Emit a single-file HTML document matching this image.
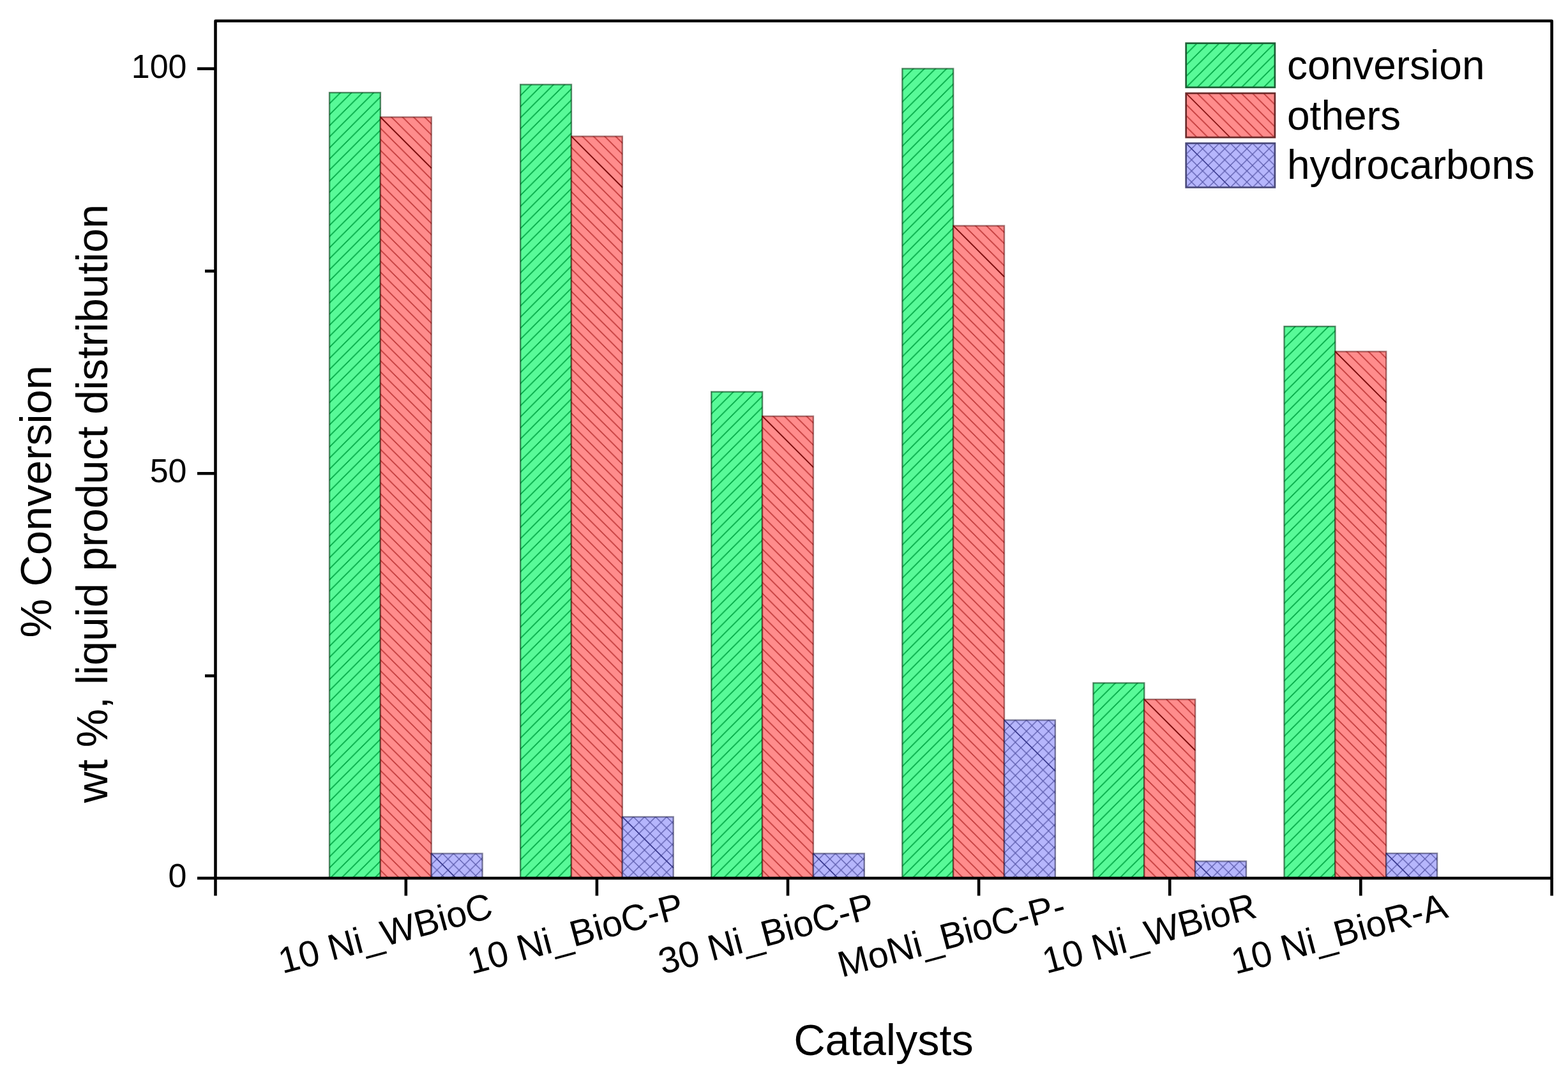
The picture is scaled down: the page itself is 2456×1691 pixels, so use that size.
<!DOCTYPE html>
<html><head><meta charset="utf-8"><title>Catalysts chart</title>
<style>html,body{margin:0;padding:0;background:#fff;overflow:hidden;}svg{display:block}</style></head>
<body><svg width="2456" height="1691" viewBox="0 0 2456 1691">
<rect width="2456" height="1691" fill="#fff"/>
<defs><pattern id="p1" patternUnits="userSpaceOnUse" x="516.02" y="145.00" width="17.34" height="17.34"><path d="M-4,4 L4,-4 M0,17.34 L17.34,0 M13.34,21.34 L21.34,13.34" stroke="#00A543" stroke-width="1.7" fill="none"/></pattern><pattern id="p2" patternUnits="userSpaceOnUse" x="595.88" y="183.40" width="17.34" height="17.34"><path d="M-4,-4 L21.34,21.34 M13.34,-4 L21.34,4 M-4,13.34 L4,21.34" stroke="#BE3636" stroke-width="1.6" fill="none"/></pattern><pattern id="p3" patternUnits="userSpaceOnUse" x="675.72" y="1336.40" width="17.34" height="17.34"><path d="M-4,4 L4,-4 M0,17.34 L17.34,0 M13.34,21.34 L21.34,13.34" stroke="#5A5AAA" stroke-width="1.3" fill="none"/><path d="M-4,-4 L21.34,21.34 M13.34,-4 L21.34,4 M-4,13.34 L4,21.34" stroke="#5A5AAA" stroke-width="1.3" fill="none"/></pattern><pattern id="p4" patternUnits="userSpaceOnUse" x="815.12" y="132.40" width="17.34" height="17.34"><path d="M-4,4 L4,-4 M0,17.34 L17.34,0 M13.34,21.34 L21.34,13.34" stroke="#00A543" stroke-width="1.7" fill="none"/></pattern><pattern id="p5" patternUnits="userSpaceOnUse" x="894.98" y="213.50" width="17.34" height="17.34"><path d="M-4,-4 L21.34,21.34 M13.34,-4 L21.34,4 M-4,13.34 L4,21.34" stroke="#BE3636" stroke-width="1.6" fill="none"/></pattern><pattern id="p6" patternUnits="userSpaceOnUse" x="974.83" y="1279.00" width="17.34" height="17.34"><path d="M-4,4 L4,-4 M0,17.34 L17.34,0 M13.34,21.34 L21.34,13.34" stroke="#5A5AAA" stroke-width="1.3" fill="none"/><path d="M-4,-4 L21.34,21.34 M13.34,-4 L21.34,4 M-4,13.34 L4,21.34" stroke="#5A5AAA" stroke-width="1.3" fill="none"/></pattern><pattern id="p7" patternUnits="userSpaceOnUse" x="1114.22" y="613.50" width="17.34" height="17.34"><path d="M-4,4 L4,-4 M0,17.34 L17.34,0 M13.34,21.34 L21.34,13.34" stroke="#00A543" stroke-width="1.7" fill="none"/></pattern><pattern id="p8" patternUnits="userSpaceOnUse" x="1194.07" y="651.70" width="17.34" height="17.34"><path d="M-4,-4 L21.34,21.34 M13.34,-4 L21.34,4 M-4,13.34 L4,21.34" stroke="#BE3636" stroke-width="1.6" fill="none"/></pattern><pattern id="p9" patternUnits="userSpaceOnUse" x="1273.92" y="1336.40" width="17.34" height="17.34"><path d="M-4,4 L4,-4 M0,17.34 L17.34,0 M13.34,21.34 L21.34,13.34" stroke="#5A5AAA" stroke-width="1.3" fill="none"/><path d="M-4,-4 L21.34,21.34 M13.34,-4 L21.34,4 M-4,13.34 L4,21.34" stroke="#5A5AAA" stroke-width="1.3" fill="none"/></pattern><pattern id="p10" patternUnits="userSpaceOnUse" x="1413.32" y="107.50" width="17.34" height="17.34"><path d="M-4,4 L4,-4 M0,17.34 L17.34,0 M13.34,21.34 L21.34,13.34" stroke="#00A543" stroke-width="1.7" fill="none"/></pattern><pattern id="p11" patternUnits="userSpaceOnUse" x="1493.17" y="353.50" width="17.34" height="17.34"><path d="M-4,-4 L21.34,21.34 M13.34,-4 L21.34,4 M-4,13.34 L4,21.34" stroke="#BE3636" stroke-width="1.6" fill="none"/></pattern><pattern id="p12" patternUnits="userSpaceOnUse" x="1573.02" y="1127.50" width="17.34" height="17.34"><path d="M-4,4 L4,-4 M0,17.34 L17.34,0 M13.34,21.34 L21.34,13.34" stroke="#5A5AAA" stroke-width="1.3" fill="none"/><path d="M-4,-4 L21.34,21.34 M13.34,-4 L21.34,4 M-4,13.34 L4,21.34" stroke="#5A5AAA" stroke-width="1.3" fill="none"/></pattern><pattern id="p13" patternUnits="userSpaceOnUse" x="1712.42" y="1069.40" width="17.34" height="17.34"><path d="M-4,4 L4,-4 M0,17.34 L17.34,0 M13.34,21.34 L21.34,13.34" stroke="#00A543" stroke-width="1.7" fill="none"/></pattern><pattern id="p14" patternUnits="userSpaceOnUse" x="1792.27" y="1095.00" width="17.34" height="17.34"><path d="M-4,-4 L21.34,21.34 M13.34,-4 L21.34,4 M-4,13.34 L4,21.34" stroke="#BE3636" stroke-width="1.6" fill="none"/></pattern><pattern id="p15" patternUnits="userSpaceOnUse" x="1872.12" y="1348.50" width="17.34" height="17.34"><path d="M-4,4 L4,-4 M0,17.34 L17.34,0 M13.34,21.34 L21.34,13.34" stroke="#5A5AAA" stroke-width="1.3" fill="none"/><path d="M-4,-4 L21.34,21.34 M13.34,-4 L21.34,4 M-4,13.34 L4,21.34" stroke="#5A5AAA" stroke-width="1.3" fill="none"/></pattern><pattern id="p16" patternUnits="userSpaceOnUse" x="2011.53" y="511.10" width="17.34" height="17.34"><path d="M-4,4 L4,-4 M0,17.34 L17.34,0 M13.34,21.34 L21.34,13.34" stroke="#00A543" stroke-width="1.7" fill="none"/></pattern><pattern id="p17" patternUnits="userSpaceOnUse" x="2091.38" y="550.40" width="17.34" height="17.34"><path d="M-4,-4 L21.34,21.34 M13.34,-4 L21.34,4 M-4,13.34 L4,21.34" stroke="#BE3636" stroke-width="1.6" fill="none"/></pattern><pattern id="p18" patternUnits="userSpaceOnUse" x="2171.22" y="1336.10" width="17.34" height="17.34"><path d="M-4,4 L4,-4 M0,17.34 L17.34,0 M13.34,21.34 L21.34,13.34" stroke="#5A5AAA" stroke-width="1.3" fill="none"/><path d="M-4,-4 L21.34,21.34 M13.34,-4 L21.34,4 M-4,13.34 L4,21.34" stroke="#5A5AAA" stroke-width="1.3" fill="none"/></pattern><pattern id="p19" patternUnits="userSpaceOnUse" x="1857.70" y="67.70" width="17.34" height="17.34"><path d="M-4,4 L4,-4 M0,17.34 L17.34,0 M13.34,21.34 L21.34,13.34" stroke="#00A543" stroke-width="1.7" fill="none"/></pattern><pattern id="p20" patternUnits="userSpaceOnUse" x="1857.70" y="146.00" width="17.34" height="17.34"><path d="M-4,-4 L21.34,21.34 M13.34,-4 L21.34,4 M-4,13.34 L4,21.34" stroke="#BE3636" stroke-width="1.6" fill="none"/></pattern><pattern id="p21" patternUnits="userSpaceOnUse" x="1857.70" y="224.30" width="17.34" height="17.34"><path d="M-4,4 L4,-4 M0,17.34 L17.34,0 M13.34,21.34 L21.34,13.34" stroke="#5A5AAA" stroke-width="1.3" fill="none"/><path d="M-4,-4 L21.34,21.34 M13.34,-4 L21.34,4 M-4,13.34 L4,21.34" stroke="#5A5AAA" stroke-width="1.3" fill="none"/></pattern></defs>
<rect x="516.02" y="145.00" width="79.85" height="1230.00" fill="#58FA98"/><rect x="516.02" y="145.00" width="79.85" height="1230.00" fill="url(#p1)"/><rect x="516.02" y="145.00" width="79.85" height="1230.00" fill="none" stroke="rgba(0,60,20,0.6)" stroke-width="2.4"/>
<rect x="595.88" y="183.40" width="79.85" height="1191.60" fill="#FF8C8C"/><rect x="595.88" y="183.40" width="79.85" height="1191.60" fill="url(#p2)"/><line x1="595.88" y1="183.40" x2="675.73" y2="263.25" stroke="#780C0C" stroke-width="1.7"/><rect x="595.88" y="183.40" width="79.85" height="1191.60" fill="none" stroke="rgba(80,0,0,0.5)" stroke-width="2.4"/>
<rect x="675.72" y="1336.40" width="79.85" height="38.60" fill="#B6B6FC"/><rect x="675.72" y="1336.40" width="79.85" height="38.60" fill="url(#p3)"/><line x1="675.72" y1="1336.40" x2="714.32" y2="1375.00" stroke="#34348A" stroke-width="1.4"/><rect x="675.72" y="1336.40" width="79.85" height="38.60" fill="none" stroke="rgba(20,20,60,0.5)" stroke-width="2.4"/>
<rect x="815.12" y="132.40" width="79.85" height="1242.60" fill="#58FA98"/><rect x="815.12" y="132.40" width="79.85" height="1242.60" fill="url(#p4)"/><rect x="815.12" y="132.40" width="79.85" height="1242.60" fill="none" stroke="rgba(0,60,20,0.6)" stroke-width="2.4"/>
<rect x="894.98" y="213.50" width="79.85" height="1161.50" fill="#FF8C8C"/><rect x="894.98" y="213.50" width="79.85" height="1161.50" fill="url(#p5)"/><line x1="894.98" y1="213.50" x2="974.83" y2="293.35" stroke="#780C0C" stroke-width="1.7"/><rect x="894.98" y="213.50" width="79.85" height="1161.50" fill="none" stroke="rgba(80,0,0,0.5)" stroke-width="2.4"/>
<rect x="974.83" y="1279.00" width="79.85" height="96.00" fill="#B6B6FC"/><rect x="974.83" y="1279.00" width="79.85" height="96.00" fill="url(#p6)"/><line x1="974.83" y1="1279.00" x2="1054.67" y2="1358.85" stroke="#34348A" stroke-width="1.4"/><rect x="974.83" y="1279.00" width="79.85" height="96.00" fill="none" stroke="rgba(20,20,60,0.5)" stroke-width="2.4"/>
<rect x="1114.22" y="613.50" width="79.85" height="761.50" fill="#58FA98"/><rect x="1114.22" y="613.50" width="79.85" height="761.50" fill="url(#p7)"/><rect x="1114.22" y="613.50" width="79.85" height="761.50" fill="none" stroke="rgba(0,60,20,0.6)" stroke-width="2.4"/>
<rect x="1194.07" y="651.70" width="79.85" height="723.30" fill="#FF8C8C"/><rect x="1194.07" y="651.70" width="79.85" height="723.30" fill="url(#p8)"/><line x1="1194.07" y1="651.70" x2="1273.92" y2="731.55" stroke="#780C0C" stroke-width="1.7"/><rect x="1194.07" y="651.70" width="79.85" height="723.30" fill="none" stroke="rgba(80,0,0,0.5)" stroke-width="2.4"/>
<rect x="1273.92" y="1336.40" width="79.85" height="38.60" fill="#B6B6FC"/><rect x="1273.92" y="1336.40" width="79.85" height="38.60" fill="url(#p9)"/><line x1="1273.92" y1="1336.40" x2="1312.52" y2="1375.00" stroke="#34348A" stroke-width="1.4"/><rect x="1273.92" y="1336.40" width="79.85" height="38.60" fill="none" stroke="rgba(20,20,60,0.5)" stroke-width="2.4"/>
<rect x="1413.32" y="107.50" width="79.85" height="1267.50" fill="#58FA98"/><rect x="1413.32" y="107.50" width="79.85" height="1267.50" fill="url(#p10)"/><rect x="1413.32" y="107.50" width="79.85" height="1267.50" fill="none" stroke="rgba(0,60,20,0.6)" stroke-width="2.4"/>
<rect x="1493.17" y="353.50" width="79.85" height="1021.50" fill="#FF8C8C"/><rect x="1493.17" y="353.50" width="79.85" height="1021.50" fill="url(#p11)"/><line x1="1493.17" y1="353.50" x2="1573.02" y2="433.35" stroke="#780C0C" stroke-width="1.7"/><rect x="1493.17" y="353.50" width="79.85" height="1021.50" fill="none" stroke="rgba(80,0,0,0.5)" stroke-width="2.4"/>
<rect x="1573.02" y="1127.50" width="79.85" height="247.50" fill="#B6B6FC"/><rect x="1573.02" y="1127.50" width="79.85" height="247.50" fill="url(#p12)"/><line x1="1573.02" y1="1127.50" x2="1652.87" y2="1207.35" stroke="#34348A" stroke-width="1.4"/><rect x="1573.02" y="1127.50" width="79.85" height="247.50" fill="none" stroke="rgba(20,20,60,0.5)" stroke-width="2.4"/>
<rect x="1712.42" y="1069.40" width="79.85" height="305.60" fill="#58FA98"/><rect x="1712.42" y="1069.40" width="79.85" height="305.60" fill="url(#p13)"/><rect x="1712.42" y="1069.40" width="79.85" height="305.60" fill="none" stroke="rgba(0,60,20,0.6)" stroke-width="2.4"/>
<rect x="1792.27" y="1095.00" width="79.85" height="280.00" fill="#FF8C8C"/><rect x="1792.27" y="1095.00" width="79.85" height="280.00" fill="url(#p14)"/><line x1="1792.27" y1="1095.00" x2="1872.12" y2="1174.85" stroke="#780C0C" stroke-width="1.7"/><rect x="1792.27" y="1095.00" width="79.85" height="280.00" fill="none" stroke="rgba(80,0,0,0.5)" stroke-width="2.4"/>
<rect x="1872.12" y="1348.50" width="79.85" height="26.50" fill="#B6B6FC"/><rect x="1872.12" y="1348.50" width="79.85" height="26.50" fill="url(#p15)"/><line x1="1872.12" y1="1348.50" x2="1898.62" y2="1375.00" stroke="#34348A" stroke-width="1.4"/><rect x="1872.12" y="1348.50" width="79.85" height="26.50" fill="none" stroke="rgba(20,20,60,0.5)" stroke-width="2.4"/>
<rect x="2011.53" y="511.10" width="79.85" height="863.90" fill="#58FA98"/><rect x="2011.53" y="511.10" width="79.85" height="863.90" fill="url(#p16)"/><rect x="2011.53" y="511.10" width="79.85" height="863.90" fill="none" stroke="rgba(0,60,20,0.6)" stroke-width="2.4"/>
<rect x="2091.38" y="550.40" width="79.85" height="824.60" fill="#FF8C8C"/><rect x="2091.38" y="550.40" width="79.85" height="824.60" fill="url(#p17)"/><line x1="2091.38" y1="550.40" x2="2171.22" y2="630.25" stroke="#780C0C" stroke-width="1.7"/><rect x="2091.38" y="550.40" width="79.85" height="824.60" fill="none" stroke="rgba(80,0,0,0.5)" stroke-width="2.4"/>
<rect x="2171.22" y="1336.10" width="79.85" height="38.90" fill="#B6B6FC"/><rect x="2171.22" y="1336.10" width="79.85" height="38.90" fill="url(#p18)"/><line x1="2171.22" y1="1336.10" x2="2210.12" y2="1375.00" stroke="#34348A" stroke-width="1.4"/><rect x="2171.22" y="1336.10" width="79.85" height="38.90" fill="none" stroke="rgba(20,20,60,0.5)" stroke-width="2.4"/>
<rect x="337.50" y="32.80" width="2093.10" height="1342.20" fill="none" stroke="#000" stroke-width="4.6" stroke-linejoin="round"/>
<line x1="309" y1="1375.00" x2="337.50" y2="1375.00" stroke="#000" stroke-width="4.6"/>
<line x1="309" y1="741.30" x2="337.50" y2="741.30" stroke="#000" stroke-width="4.6"/>
<line x1="309" y1="107.60" x2="337.50" y2="107.60" stroke="#000" stroke-width="4.6"/>
<line x1="321" y1="1058.15" x2="337.50" y2="1058.15" stroke="#000" stroke-width="4.6"/>
<line x1="321" y1="424.45" x2="337.50" y2="424.45" stroke="#000" stroke-width="4.6"/>
<line x1="635.80" y1="1375.00" x2="635.80" y2="1402.5" stroke="#000" stroke-width="4.6"/>
<line x1="934.90" y1="1375.00" x2="934.90" y2="1402.5" stroke="#000" stroke-width="4.6"/>
<line x1="1234.00" y1="1375.00" x2="1234.00" y2="1402.5" stroke="#000" stroke-width="4.6"/>
<line x1="1533.10" y1="1375.00" x2="1533.10" y2="1402.5" stroke="#000" stroke-width="4.6"/>
<line x1="1832.20" y1="1375.00" x2="1832.20" y2="1402.5" stroke="#000" stroke-width="4.6"/>
<line x1="2131.30" y1="1375.00" x2="2131.30" y2="1402.5" stroke="#000" stroke-width="4.6"/>
<line x1="337.50" y1="1375.00" x2="337.50" y2="1402.5" stroke="#000" stroke-width="4.6"/>
<line x1="2430.60" y1="1375.00" x2="2430.60" y2="1402.5" stroke="#000" stroke-width="4.6"/>
<text x="292.5" y="121.50" font-size="52" text-anchor="end" font-family="Liberation Sans, Arial, sans-serif">100</text>
<text x="292.5" y="755.20" font-size="52" text-anchor="end" font-family="Liberation Sans, Arial, sans-serif">50</text>
<text x="292.5" y="1388.90" font-size="52" text-anchor="end" font-family="Liberation Sans, Arial, sans-serif">0</text>
<text transform="translate(774.80,1435.80) rotate(-15)" font-size="57.3" text-anchor="end" font-family="Liberation Sans, Arial, sans-serif">10 Ni_WBioC</text>
<text transform="translate(1073.90,1435.80) rotate(-15)" font-size="57.3" text-anchor="end" font-family="Liberation Sans, Arial, sans-serif">10 Ni_BioC-P</text>
<text transform="translate(1373.00,1435.80) rotate(-15)" font-size="57.3" text-anchor="end" font-family="Liberation Sans, Arial, sans-serif">30 Ni_BioC-P</text>
<text transform="translate(1672.10,1435.80) rotate(-15)" font-size="57.3" text-anchor="end" font-family="Liberation Sans, Arial, sans-serif">MoNi_BioC-P-</text>
<text transform="translate(1971.20,1435.80) rotate(-15)" font-size="57.3" text-anchor="end" font-family="Liberation Sans, Arial, sans-serif">10 Ni_WBioR</text>
<text transform="translate(2270.30,1435.80) rotate(-15)" font-size="57.3" text-anchor="end" font-family="Liberation Sans, Arial, sans-serif">10 Ni_BioR-A</text>
<text transform="translate(80.1,785.3) rotate(-90)" font-size="68.5" text-anchor="middle" font-family="Liberation Sans, Arial, sans-serif">% Conversion</text>
<text transform="translate(167.5,788.5) rotate(-90)" font-size="68" text-anchor="middle" font-family="Liberation Sans, Arial, sans-serif">wt %, liquid product distribution</text>
<text x="1384" y="1651.6" font-size="68.5" text-anchor="middle" font-family="Liberation Sans, Arial, sans-serif">Catalysts</text>
<rect x="1857.7" y="67.7" width="139.20" height="69.10" fill="#58FA98"/>
<rect x="1857.7" y="67.7" width="139.20" height="69.10" fill="url(#p19)"/>
<rect x="1857.7" y="67.7" width="139.20" height="69.10" fill="none" stroke="#1E5E36" stroke-width="2.7"/>
<text x="2016" y="123.8" font-size="64" font-family="Liberation Sans, Arial, sans-serif">conversion</text>
<rect x="1857.7" y="146.0" width="139.20" height="69.10" fill="#FF8C8C"/>
<rect x="1857.7" y="146.0" width="139.20" height="69.10" fill="url(#p20)"/>
<line x1="1857.7" y1="146.0" x2="1926.80" y2="215.10" stroke="#780C0C" stroke-width="1.1"/>
<rect x="1857.7" y="146.0" width="139.20" height="69.10" fill="none" stroke="#6A2A2A" stroke-width="2.7"/>
<text x="2016" y="202.5" font-size="64" font-family="Liberation Sans, Arial, sans-serif">others</text>
<rect x="1857.7" y="224.3" width="139.20" height="69.10" fill="#B6B6FC"/>
<rect x="1857.7" y="224.3" width="139.20" height="69.10" fill="url(#p21)"/>
<line x1="1857.7" y1="224.3" x2="1926.80" y2="293.40" stroke="#34348A" stroke-width="1.1"/>
<rect x="1857.7" y="224.3" width="139.20" height="69.10" fill="none" stroke="#4A4A7A" stroke-width="2.7"/>
<text x="2016" y="280.4" font-size="64" font-family="Liberation Sans, Arial, sans-serif">hydrocarbons</text>
</svg></body></html>
